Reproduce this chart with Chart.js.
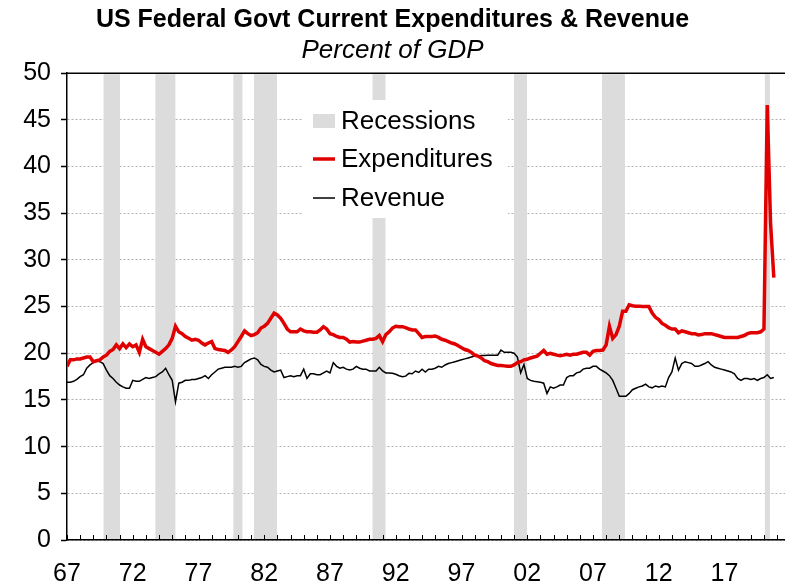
<!DOCTYPE html>
<html>
<head>
<meta charset="utf-8">
<script src="https://cdn.jsdelivr.net/npm/chart.js@4.4.0/dist/chart.umd.min.js"></script>
<style>
html,body{margin:0;padding:0;background:#fff}
</style>
</head>
<body>
<canvas id="chart" width="785" height="587"></canvas>
<script>
// quarterly, 1967Q1 .. 2020Q4, percent of GDP
const startYear = 1967;
const expenditures = [
	18.6,19.3,19.3,19.4, 19.4,19.5,19.6,19.6, 19.1,19.2,19.3,19.6, 19.8,20.2,20.4,20.9,
	20.5,21.0,20.6,21.0, 20.7,20.9,20.1,21.5, 20.7,20.5,20.3,20.1, 19.9,20.2,20.5,20.9,
	21.6,22.9,22.3,22.1, 21.8,21.6,21.4,21.5, 21.4,21.1,20.9,21.1, 21.25,20.5,20.4,20.35,
	20.3,20.1,20.35,20.7, 21.25,21.8,22.4,22.1, 21.9,22.0,22.2,22.7, 22.9,23.2,23.75,24.3,
	24.1,23.75,23.2,22.6, 22.3,22.3,22.3,22.6, 22.4,22.3,22.3,22.25, 22.25,22.5,22.85,22.6,
	22.1,22.0,21.8,21.7, 21.7,21.5,21.2,21.25, 21.2,21.2,21.3,21.4, 21.5,21.5,21.6,21.9,
	21.25,22.0,22.3,22.7, 22.9,22.85,22.85,22.75, 22.6,22.5,22.5,22.1, 21.7,21.8,21.8,21.8,
	21.85,21.7,21.5,21.4, 21.25,21.1,21.0,20.8, 20.6,20.4,20.3,20.1, 19.8,19.7,19.5,19.2,
	19.1,18.9,18.8,18.7, 18.7,18.65,18.6,18.6, 18.75,19.0,19.1,19.3, 19.35,19.5,19.6,19.7,
	20.0,20.3,19.9,20.0, 19.9,19.8,19.75,19.8, 19.9,19.8,19.9,19.9, 20.0,20.1,20.1,19.8,
	20.2,20.3,20.3,20.35, 20.9,22.9,21.6,22.0, 22.9,24.5,24.5,25.2, 25.1,25.05,25.05,25.0,
	25.0,25.0,24.3,23.85, 23.6,23.2,23.0,22.75, 22.6,22.6,22.2,22.4, 22.3,22.2,22.1,22.1,
	21.96,22.0,22.1,22.1, 22.1,22.0,21.9,21.8, 21.7,21.7,21.7,21.7, 21.7,21.8,21.9,22.1,
	22.2,22.2,22.2,22.3, 22.6,46.6,34.0,28.1
];
const revenue = [
	16.9,16.9,17.0,17.2, 17.5,17.7,18.4,18.75, 19.0,19.2,19.1,18.9, 18.2,17.6,17.3,16.9,
	16.6,16.4,16.25,16.25, 17.1,17.0,17.0,17.2, 17.4,17.3,17.4,17.5, 17.8,18.0,18.4,17.7,
	17.1,14.8,16.8,16.9, 17.1,17.1,17.2,17.2, 17.3,17.4,17.6,17.3, 17.7,18.0,18.3,18.4,
	18.5,18.5,18.5,18.6, 18.5,18.6,19.0,19.2, 19.4,19.5,19.3,18.8, 18.6,18.5,18.2,18.0,
	18.1,18.2,17.4,17.5, 17.6,17.5,17.6,17.6, 18.3,17.3,17.8,17.8, 17.7,17.7,17.9,18.1,
	17.9,19.0,18.6,18.4, 18.5,18.3,18.2,18.3, 18.6,18.4,18.3,18.3, 18.1,18.1,18.1,18.5,
	18.1,17.9,17.9,17.85, 17.75,17.6,17.5,17.55, 17.85,17.8,18.1,17.95, 18.3,18.0,18.3,18.3,
	18.4,18.6,18.5,18.75, 18.9,19.0,19.1,19.2, 19.3,19.4,19.5,19.6, 19.7,19.7,19.75,19.75,
	19.8,19.8,19.8,19.8, 20.35,20.1,20.1,20.1, 20.0,19.6,17.9,18.8, 17.3,17.1,17.0,16.96,
	16.9,16.8,15.7,16.4, 16.25,16.4,16.6,16.6, 17.4,17.6,17.6,17.9, 18.0,18.3,18.4,18.4,
	18.6,18.6,18.3,18.1, 17.9,17.6,17.1,16.25, 15.4,15.4,15.4,15.7, 16.1,16.25,16.4,16.5,
	16.7,16.4,16.3,16.5, 16.4,16.5,16.4,17.4, 18.0,19.5,18.2,18.9, 19.1,19.0,18.9,18.6,
	18.6,18.75,18.9,19.1, 18.75,18.5,18.4,18.3, 18.2,18.1,18.0,17.8, 17.3,17.1,17.3,17.3,
	17.2,17.3,17.1,17.3, 17.4,17.7,17.3,17.4
];
// recession bands, decimal years
const recessions = [
	[1969.78,1971.03],[1973.72,1975.24],[1979.65,1980.34],[1981.22,1982.97],
	[1990.23,1991.22],[2000.99,2001.98],[2007.68,2009.43],[2020.07,2020.45]
];
const yTicks = [0,5,10,15,20,25,30,35,40,45,50];
const xLabelYears = [1967,1972,1977,1982,1987,1992,1997,2002,2007,2012,2017];

const FONT = "'Liberation Sans', Arial, sans-serif";
const RED = '#e00000';
const toPoints = arr => arr.map((v,i)=>({x: startYear + i/4, y: v}));

const framePlugin = {
	id: 'frame',
	beforeDatasetsDraw(chart){
		const {ctx, chartArea:a, scales:{x}} = chart;
		ctx.save();
		ctx.fillStyle = '#dcdcdc';
		recessions.forEach(r=>{
			const x0 = x.getPixelForValue(r[0]), x1 = x.getPixelForValue(r[1]);
			ctx.fillRect(x0, a.top+1, x1-x0, a.bottom-a.top-2);
		});
		ctx.restore();
	},
	afterDatasetsDraw(chart){
		const {ctx, chartArea:a, scales:{x}} = chart;
		ctx.save();
		// top frame line
		ctx.strokeStyle = '#000';
		ctx.lineWidth = 1.5;
		ctx.beginPath();
		ctx.moveTo(a.left, a.top);
		ctx.lineTo(a.right, a.top);
		ctx.stroke();
		// yearly minor ticks pointing up
		ctx.lineWidth = 1;
		ctx.beginPath();
		for(let yr = startYear; yr <= 2021; yr++){
			const px = Math.round(x.getPixelForValue(yr)) + 0.5;
			ctx.moveTo(px, a.bottom);
			ctx.lineTo(px, a.bottom - 5);
		}
		ctx.stroke();
		// legend
		ctx.fillStyle = '#fff';
		ctx.fillRect(303, 100, 205, 118);
		ctx.fillStyle = '#dcdcdc';
		ctx.fillRect(313, 114, 22, 14);
		ctx.strokeStyle = RED;
		ctx.lineWidth = 3.5;
		ctx.beginPath(); ctx.moveTo(313, 159); ctx.lineTo(335, 159); ctx.stroke();
		ctx.strokeStyle = '#000';
		ctx.lineWidth = 1.5;
		ctx.beginPath(); ctx.moveTo(313, 198); ctx.lineTo(335, 198); ctx.stroke();
		ctx.fillStyle = '#000';
		ctx.font = '26px ' + FONT;
		ctx.textBaseline = 'middle';
		ctx.fillText('Recessions', 341, 122);
		ctx.fillText('Expenditures', 341, 160);
		ctx.fillText('Revenue', 341, 199);
		ctx.restore();
	}
};

new Chart(document.getElementById('chart'), {
	type: 'line',
	data: {
		datasets: [{
			label: 'Expenditures',
			data: toPoints(expenditures),
			borderColor: RED,
			borderWidth: 3.5,
			pointRadius: 0,
			tension: 0
		},{
			label: 'Revenue',
			data: toPoints(revenue),
			borderColor: '#000',
			borderWidth: 1.5,
			pointRadius: 0,
			tension: 0
		}]
	},
	options: {
		responsive: false,
		animation: false,
		devicePixelRatio: 1,
		layout: {padding: {top: 0, left: 0, right: 0, bottom: 0}},
		plugins: {
			legend: {display: false},
			tooltip: {enabled: false},
			title: {
				display: true,
				text: 'US Federal Govt Current Expenditures & Revenue',
				color: '#000',
				font: {family: FONT, size: 25, weight: 'bold'},
				padding: {top: 5, bottom: 0}
			},
			subtitle: {
				display: true,
				text: 'Percent of GDP',
				color: '#000',
				font: {family: FONT, size: 26, style: 'italic'},
				padding: {top: 0, bottom: 7}
			}
		},
		scales: {
			x: {
				type: 'linear',
				min: 1967,
				max: 2021.6,
				afterBuildTicks: s => { s.ticks = xLabelYears.map(v=>({value: v})); },
				afterFit: s => { s.height = 47; },
				ticks: {
					color: '#000',
					font: {family: FONT, size: 25},
					padding: 11,
					maxRotation: 0,
					autoSkip: false,
					callback: v => String(v % 100).padStart(2, '0')
				},
				grid: {display: false},
				border: {display: true, color: '#000', width: 1.5}
			},
			y: {
				min: 0,
				max: 50,
				afterBuildTicks: s => { s.ticks = yTicks.map(v=>({value: v})); },
				afterFit: s => { s.width = 67; },
				ticks: {
					color: '#000',
					font: {family: FONT, size: 25},
					padding: 10
				},
				grid: {
					color: '#b0b0b0',
					lineWidth: 1,
					tickColor: '#000',
					tickLength: 6,
					tickWidth: 1.5,
					tickBorderDash: []
				},
				border: {display: true, color: '#000', width: 1.5, dash: [2, 2]}
			}
		}
	},
	plugins: [framePlugin]
});
</script>
</body>
</html>
